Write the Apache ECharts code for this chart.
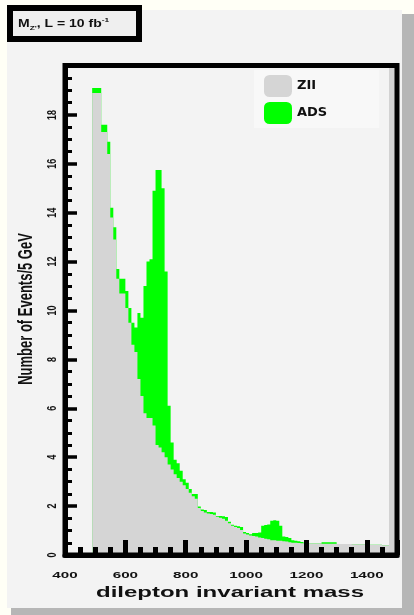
<!DOCTYPE html>
<html>
<head>
<meta charset="utf-8">
<script src="https://cdn.jsdelivr.net/npm/echarts@6/dist/echarts.min.js"></script>
<style>
html,body{margin:0;padding:0;background:#fffff6;}
#c{width:414px;height:615px;}
</style>
</head>
<body>
<div id="c"></div>
<script>
// ---- data ----
const seriesNames = ['ZII', 'ADS'];
const binEdges = [
  490, 500, 510, 520, 530, 540, 550, 560, 570, 580,
  590, 600, 610, 620, 630, 640, 650, 660, 670, 680,
  690, 700, 710, 720, 730, 740, 750, 760, 770, 780,
  790, 800, 810, 820, 830, 840, 850, 860, 870, 880,
  890, 900, 910, 920, 930, 940, 950, 960, 970, 980,
  990, 1000, 1010, 1020, 1030, 1040, 1050, 1060, 1070, 1080,
  1090, 1100, 1110, 1120, 1130, 1140, 1150, 1160, 1170, 1180,
  1190, 1200, 1250, 1300, 1350, 1400, 1450, 1490
];
const zllEvents = [
  18.9, 18.9, 18.9, 17.3, 17.3, 16.4, 13.8, 12.9, 11.3, 10.7,
  10.7, 10.1, 9.5, 8.6, 8.3, 7.2, 6.5, 5.8, 5.6, 5.6,
  5.3, 4.5, 4.4, 4.2, 4.0, 3.7, 3.5, 3.3, 3.15, 3.0,
  2.85, 2.7, 2.55, 2.4, 2.3, 1.92, 1.8, 1.74, 1.7, 1.68,
  1.65, 1.56, 1.52, 1.48, 1.4, 1.3, 1.2, 1.15, 1.1, 1.02,
  0.88, 0.84, 0.8, 0.78, 0.76, 0.72, 0.7, 0.66, 0.64, 0.6,
  0.6, 0.58, 0.58, 0.56, 0.55, 0.52, 0.5, 0.5, 0.49, 0.48,
  0.48, 0.47, 0.46, 0.45, 0.44, 0.42, 0.4
];
const adsEvents = [
  0.2, 0.2, 0.2, 0.3, 0.3, 0.5, 0.4, 0.5, 0.4, 0.6,
  0.6, 0.7, 0.6, 0.9, 1.0, 2.7, 3.2, 5.2, 6.4, 6.5,
  9.6, 11.25, 11.35, 10.8, 7.6, 2.4, 1.1, 0.6, 0.6, 0.45,
  0.25, 0.25, 0.15, 0.1, 0.2, 0.06, 0.06, 0.1, 0.06, 0.08,
  0.09, 0.04, 0.08, 0.1, 0.15, 0.06, 0.04, 0.05, 0.08, 0.13,
  0.06, 0.06, 0.05, 0.12, 0.14, 0.2, 0.5, 0.57, 0.61, 0.8,
  0.82, 0.82, 0.62, 0.2, 0.19, 0.18, 0.1, 0.08, 0.07, 0.05,
  0.02, 0, 0.06, 0, 0, 0, 0
];
const xTickLabels = ['400', '600', '800', '1000', '1200', '1400'];
const yTickLabels = ['0', '2', '4', '6', '8', '10', '12', '14', '16', '18'];
const xTitle = 'dilepton invariant mass';
const yTitle = 'Number of Events/5 GeV';
const boxTitle = ['M', "Z'", ', L = 10 fb', '-1'];

// ---- histogram outline drawn through the axes' scales ----
const stackedTop = zllEvents.map((z, i) => z + adsEvents[i]);
function bins(vals) {
  return vals.map((v, i) => [binEdges[i], binEdges[i + 1], v]);
}
function histRenderer(vals, color) {
  return function (params, api) {
    if (params.dataIndex !== 0) return {type: 'group', children: []};
    const pts = [api.coord([binEdges[0], 0])];
    vals.forEach((v, i) => {
      pts.push(api.coord([binEdges[i], v]));
      pts.push(api.coord([binEdges[i + 1], v]));
    });
    pts.push(api.coord([binEdges[vals.length], 0]));
    return {type: 'polygon', shape: {points: pts}, style: {fill: color, stroke: null}};
  };
}

const FONT = '"Liberation Sans", Arial, sans-serif';
const GREEN = '#00ff00';
const GREY = '#d5d5d5';
const chart = echarts.init(document.getElementById('c'), null, {renderer: 'canvas'});

const option = {
  animation: false,
  grid: {left: 65, top: 66, width: 332, height: 489, containLabel: false},
  legend: {
    data: seriesNames, orient: 'vertical', left: 254, top: 70,
    itemWidth: 28, itemHeight: 22, itemGap: 5, icon: 'roundRect',
    padding: [5, 52, 4, 10], backgroundColor: '#f8f8f8', selectedMode: false,
    textStyle: {fontFamily: '"DejaVu Sans", sans-serif', fontWeight: 'bold', fontSize: 13, color: '#111'}
  },
  xAxis: [
    {
      type: 'value', min: 400, max: 1500, interval: 200, position: 'bottom', z: 10,
      axisLine: {show: true, lineStyle: {color: '#000', width: 5}},
      axisTick: {show: true, inside: true, length: 15, lineStyle: {color: '#000', width: 5}},
      axisLabel: {show: false}, splitLine: {show: false}, splitArea: {show: false}
    },
    {
      type: 'value', min: 400, max: 1500, interval: 50, position: 'bottom', offset: 0, z: 10,
      axisLine: {show: false},
      axisTick: {show: true, inside: true, length: 8, lineStyle: {color: '#000', width: 5}},
      axisLabel: {show: false}, splitLine: {show: false}, splitArea: {show: false}
    }
  ],
  yAxis: {
    type: 'value', min: 0, max: 20, interval: 2, z: 10,
    axisLine: {show: true, lineStyle: {color: '#000', width: 5}},
    axisTick: {show: true, inside: true, length: 12, lineStyle: {color: '#000', width: 3.5}},
    minorTick: {show: true, splitNumber: 4, length: 7, lineStyle: {color: '#000', width: 3}},
    axisLabel: {show: false}, splitLine: {show: false}, minorSplitLine: {show: false}, splitArea: {show: false}
  },
  series: [
    {
      name: 'ADS', type: 'custom', xAxisIndex: 0, yAxisIndex: 0, z: 2,
      data: bins(stackedTop), encode: {x: [0, 1], y: 2},
      renderItem: histRenderer(stackedTop, GREEN), color: GREEN, itemStyle: {color: GREEN}
    },
    {
      name: 'ZII', type: 'custom', xAxisIndex: 0, yAxisIndex: 0, z: 3,
      data: bins(zllEvents), encode: {x: [0, 1], y: 2},
      renderItem: histRenderer(zllEvents, GREY), color: GREY, itemStyle: {color: GREY}
    }
  ]
};
chart.setOption(option);

// ---- texts & decoration ----
const g = [];
g.push({type: 'rect', z: -20, silent: true, shape: {x: 11, y: 14, width: 403, height: 601}, style: {fill: '#b6b6b6'}});
g.push({type: 'rect', z: -19, silent: true, shape: {x: 7, y: 10, width: 395, height: 598}, style: {fill: '#f3f3f3'}});
g.push({type: 'rect', z: 99, silent: true, shape: {x: 389, y: 68, width: 6, height: 485}, style: {fill: '#d2d2d2'}});
g.push({type: 'rect', z: 100, silent: true, shape: {x: 65, y: 65.5, width: 332, height: 489.5}, style: {fill: 'none', stroke: '#000', lineWidth: 5}});

xTickLabels.forEach(t => {
  const px = chart.convertToPixel({xAxisIndex: 0}, Number(t));
  g.push({type: 'text', z: 101, x: px, y: 575, scaleX: 1.6, silent: true,
    style: {text: t, font: 'bold 9.5px ' + FONT, fill: '#111',
      align: 'center', verticalAlign: 'middle', textAlign: 'center', textVerticalAlign: 'middle'}});
});
yTickLabels.forEach(t => {
  const py = chart.convertToPixel({yAxisIndex: 0}, Number(t));
  g.push({type: 'text', z: 101, x: 52.5, y: py, rotation: Math.PI / 2, scaleY: 1.5, silent: true,
    style: {text: t, font: 'bold 9px ' + FONT, fill: '#111',
      align: 'center', verticalAlign: 'middle', textAlign: 'center', textVerticalAlign: 'middle'}});
});
g.push({type: 'text', z: 101, x: 230, y: 593, scaleX: 1.6, silent: true,
  style: {text: xTitle, font: 'bold 15px ' + FONT, fill: '#111',
    align: 'center', verticalAlign: 'middle', textAlign: 'center', textVerticalAlign: 'middle'}});
g.push({type: 'text', z: 101, x: 26, y: 309, rotation: Math.PI / 2, scaleY: 1.6, silent: true,
  style: {text: yTitle, font: 'bold 13px ' + FONT, fill: '#111',
    align: 'center', verticalAlign: 'middle', textAlign: 'center', textVerticalAlign: 'middle'}});
g.push({type: 'rect', z: 50, silent: true, shape: {x: 10, y: 8, width: 129, height: 31}, style: {fill: '#efefef', stroke: '#000', lineWidth: 6}});
g.push({type: 'text', z: 51, x: 18, y: 24, scaleX: 1.4, silent: true,
  style: {
    text: '{a|' + boxTitle[0] + '}{b|' + boxTitle[1] + '}{a|' + boxTitle[2] + '}{c|' + boxTitle[3] + '}',
    align: 'left', verticalAlign: 'middle', textAlign: 'left', textVerticalAlign: 'middle',
    rich: {
      a: {fontFamily: FONT, fontWeight: 'bold', fontSize: 10, fill: '#111', lineHeight: 14},
      b: {fontFamily: FONT, fontWeight: 'bold', fontSize: 6, fill: '#111', lineHeight: 14, verticalAlign: 'bottom'},
      c: {fontFamily: FONT, fontWeight: 'bold', fontSize: 6, fill: '#111', lineHeight: 14, verticalAlign: 'top'}
    }
  }});
chart.setOption({graphic: {elements: g}});
</script>
</body>
</html>
